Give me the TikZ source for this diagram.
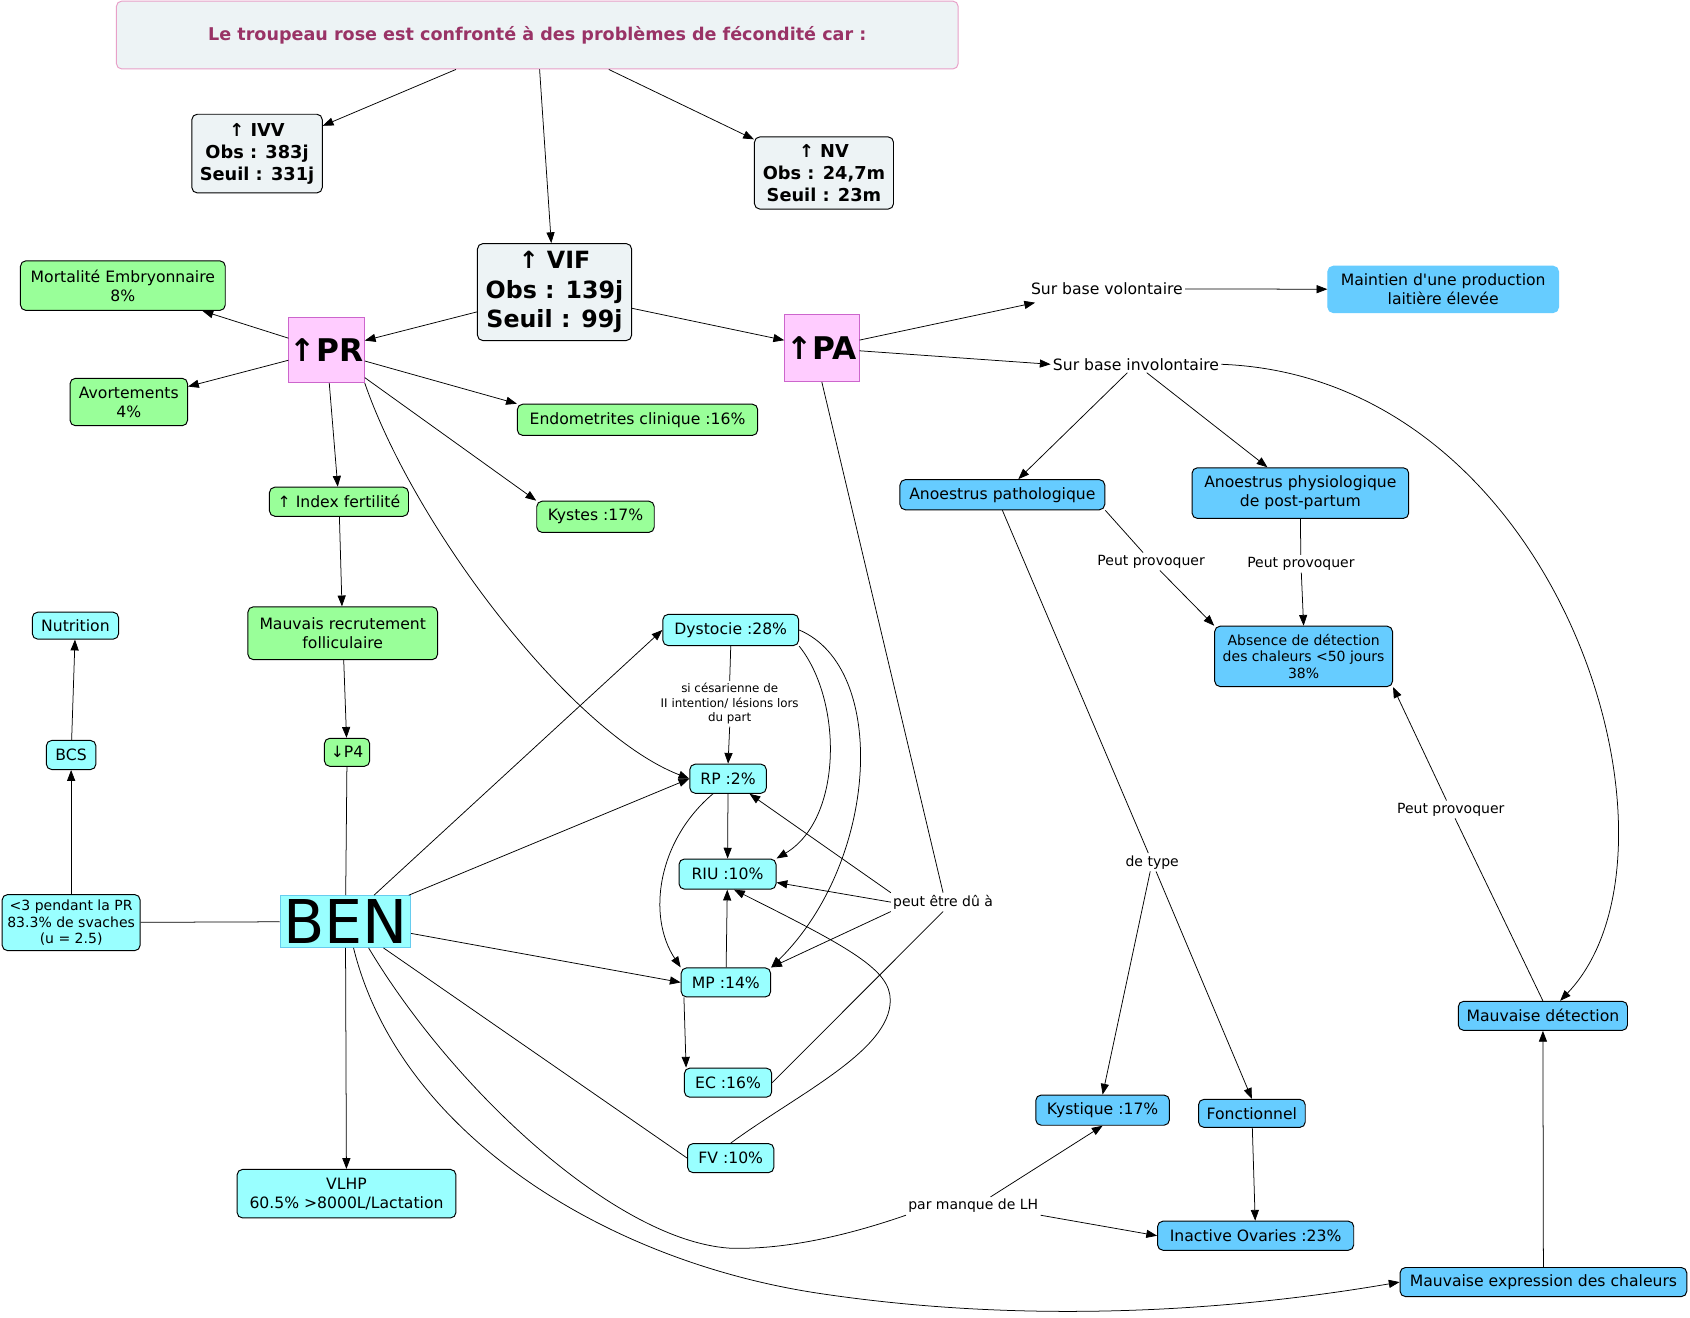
\documentclass[tikz,border=0pt]{standalone}
\usepackage{fontspec}
\setmainfont{DejaVu Sans}[Ligatures=TeXOff]
\usetikzlibrary{arrows.meta,calc}
\definecolor{cgreen}{HTML}{99FF99}
\definecolor{ccyan}{HTML}{99FFFF}
\definecolor{cblue}{HTML}{66CCFF}
\definecolor{cgrey}{HTML}{EDF3F5}
\definecolor{cpink}{HTML}{FFCCFF}
\definecolor{cpinkb}{HTML}{CC66CC}
\definecolor{ctitleb}{HTML}{E8A0C8}
\definecolor{ctitle}{HTML}{993366}
\definecolor{cbenb}{HTML}{66CCEE}
\newcommand\myfN{\fontsize{14.5}{17.5}\selectfont}
\newcommand\myfS{\fontsize{13}{15.5}\selectfont}
\begin{document}
\begin{tikzpicture}[x=1pt,y=-1pt,
  box/.style={draw=black, line width=0.9pt, rounded corners=5pt, align=center, inner sep=0pt, font=\myfN},
  grn/.style={box, fill=cgreen},
  cyn/.style={box, fill=ccyan},
  blu/.style={box, fill=cblue},
  gry/.style={box, fill=cgrey, font=\bfseries\fontsize{16.5}{20.5}\selectfont},
  pnk/.style={draw=cpinkb, fill=cpink, line width=0.9pt, inner sep=0pt, font=\bfseries\fontsize{29}{30}\selectfont},
  lab/.style={inner sep=2pt, align=center, font=\myfS},
  arr/.style={-{Triangle[length=10pt,width=7.5pt]}, line width=0.7pt},
  ln/.style={line width=0.7pt}]
\useasboundingbox (0,0) rectangle (1568,1222);
\fill[white] (0,0) rectangle (1568,1222);

% top
\node[box, draw=ctitleb, fill=cgrey, minimum width=781pt, minimum height=63pt, font=\bfseries\fontsize{16.3}{18}\selectfont, text=ctitle] (title) at (498.5,32.5) {Le troupeau rose est confronté à des problèmes de fécondité car :};
\node[gry, minimum width=121pt, minimum height=73pt] (ivv) at (238.5,142.5) {↑ IVV\\Obs : 383j\\Seuil : 331j};
\node[gry, minimum width=129pt, minimum height=67pt] (nv) at (764.5,160.5) {↑ NV\\Obs : 24,7m\\Seuil : 23m};
\node[gry, minimum width=143pt, minimum height=90pt, font=\bfseries\fontsize{22}{27.5}\selectfont] (vif) at (514.5,271) {↑ VIF\\Obs : 139j\\Seuil : 99j};
\node[pnk, minimum width=70pt, minimum height=60pt] (pr) at (303,325) {↑PR};
\node[pnk, minimum width=69pt, minimum height=62pt] (pa) at (762.5,323) {↑PA};

% green
\node[grn, minimum width=190pt, minimum height=46pt] (mort) at (114,265) {Mortalité Embryonnaire\\8\%};
\node[grn, minimum width=109pt, minimum height=44pt] (avort) at (119.5,373) {Avortements\\4\%};
\node[grn, minimum width=223pt, minimum height=29pt] (endo) at (591.5,389.5) {Endometrites clinique :16\%};
\node[grn, minimum width=129pt, minimum height=27pt] (index) at (314.5,465.5) {↑ Index fertilité};
\node[grn, minimum width=109pt, minimum height=29pt] (kystes) at (552.5,479.5) {Kystes :17\%};
\node[grn, minimum width=176pt, minimum height=49pt] (mauvrec) at (318,587.5) {Mauvais recrutement\\folliculaire};
\node[grn, minimum width=42pt, minimum height=26pt] (p4) at (322,698) {↓P4};

% cyan
\node[cyn, minimum width=80pt, minimum height=25pt] (nutrition) at (70,580.5) {Nutrition};
\node[cyn, minimum width=46pt, minimum height=27pt] (bcs) at (66,700.5) {BCS};
\node[cyn, minimum width=128pt, minimum height=52pt, font=\fontsize{13}{15.5}\selectfont] (lt3) at (66,856) {<3 pendant la PR\\83.3\% de svaches\\(u = 2.5)};
\node[draw=cbenb, fill=ccyan, line width=0.9pt, inner sep=0pt, minimum width=121pt, minimum height=48pt, font=\fontsize{56}{56}\selectfont] (ben) at (320.5,855) {BEN};
\node[cyn, minimum width=203pt, minimum height=45pt] (vlhp) at (321.5,1107.5) {VLHP\\60.5\% >8000L/Lactation};
\node[cyn, minimum width=126pt, minimum height=29pt] (dyst) at (678,584.5) {Dystocie :28\%};
\node[cyn, minimum width=71pt, minimum height=27pt] (rp) at (675.5,722.5) {RP :2\%};
\node[cyn, minimum width=90pt, minimum height=28pt] (riu) at (675,811) {RIU :10\%};
\node[cyn, minimum width=83pt, minimum height=27pt] (mp) at (673.5,911.5) {MP :14\%};
\node[cyn, minimum width=81pt, minimum height=27pt] (ec) at (675.5,1004.5) {EC :16\%};
\node[cyn, minimum width=80pt, minimum height=27pt] (fv) at (678,1074.5) {FV :10\%};

% blue
\node[blu, draw=cblue, minimum width=214pt, minimum height=43pt] (maintien) at (1339,268.5) {Maintien d'une production\\laitière élevée};
\node[blu, minimum width=190pt, minimum height=28pt] (anpath) at (930,459) {Anoestrus pathologique};
\node[blu, minimum width=201pt, minimum height=47pt] (anphys) at (1206.5,457.5) {Anoestrus physiologique\\de post-partum};
\node[blu, minimum width=165pt, minimum height=56pt, font=\fontsize{13}{15.5}\selectfont] (absence) at (1209.5,609) {Absence de détection\\des chaleurs <50 jours\\38\%};
\node[blu, minimum width=157pt, minimum height=27pt] (mauvdet) at (1431.5,942.5) {Mauvaise détection};
\node[blu, minimum width=124pt, minimum height=28pt] (kystique) at (1023,1030) {Kystique :17\%};
\node[blu, minimum width=99pt, minimum height=26pt] (fonct) at (1161.5,1033) {Fonctionnel};
\node[blu, minimum width=182pt, minimum height=27pt] (inactive) at (1165,1146.5) {Inactive Ovaries :23\%};
\node[blu, minimum width=266pt, minimum height=27pt] (mauvexp) at (1432,1189.5) {Mauvaise expression des chaleurs};

% linking phrases
\node[lab, font=\fontsize{11}{13.5}\selectfont] (lcesar) at (677,653) {si césarienne de\\II intention/ lésions lors\\du part};
\node[lab] (lpeut) at (875,837) {peut être dû à};
\node[lab, font=\myfN] (lvol) at (1027,268) {Sur base volontaire};
\node[lab, font=\myfN] (linvol) at (1054,338) {Sur base involontaire};
\node[lab] (lprov1) at (1068,521) {Peut provoquer};
\node[lab] (lprov2) at (1207,523) {Peut provoquer};
\node[lab] (lprov3) at (1346,751) {Peut provoquer};
\node[lab] (ltype) at (1069,800) {de type};
\node[lab] (llh) at (903,1119) {par manque de LH};

% connectors
\draw[arr] (title) -- (ivv);
\draw[arr] (title) -- (vif);
\draw[arr] (title) -- (nv);
\draw[arr] (vif) -- (pr);
\draw[arr] (vif) -- (pa);
\draw[arr] (pr) -- (mort);
\draw[arr] (pr) -- (avort);
\draw[arr] (pr) -- (endo.north west);
\draw[arr] (pr) -- (kystes.north west);
\draw[arr] (pr) -- (index);
\draw[arr] (pr.south east) .. controls (385,490) and (530,680) .. (rp.west);
\draw[arr] (index) -- (mauvrec);
\draw[arr] (mauvrec) -- (p4);
\draw[ln] (p4) -- (ben);
\draw[ln] (ben) -- (lt3);
\draw[arr] (lt3) -- (bcs);
\draw[arr] (bcs) -- (nutrition);
\draw[arr] (ben) -- (dyst.west);
\draw[arr] (ben) -- (rp.west);
\draw[arr] (ben) -- (mp.west);
\draw[arr] (ben) -- (vlhp);
\draw[ln] (ben) -- (fv.west);
\draw[ln] ($(ben.south)+(21.5,0)$) .. controls (420,1010) and (570,1150) .. (676,1158) .. controls (730,1160) and (790,1145) .. (llh.south west);
\draw[arr] ($(ben.south)+(7.5,0)$) .. controls (370,1050) and (560,1170) .. (760,1200) .. controls (960,1230) and (1150,1215) .. (mauvexp.west);
\draw[ln] (dyst.south) -- (lcesar.north);
\draw[arr] (lcesar.south) -- (rp.north);
\draw[arr] (dyst.south east) .. controls (782,650) and (782,760) .. (riu.north east);
\draw[arr] (dyst.east) .. controls (825,620) and (815,800) .. (mp.north east);
\draw[arr] (rp) -- (riu);
\draw[arr] ($(rp.south west)+(22,0)$) .. controls (610,780) and (600,850) .. (mp.north west);
\draw[arr] (mp) -- (riu);
\draw[arr] ($(mp.south west)+(3,0)$) -- ($(ec.north west)+(2,0)$);
\draw[ln] (pa.south) -- (lpeut.north);
\draw[ln] (ec.east) -- (lpeut.south);
\draw[arr] (lpeut.north west) -- (rp);
\draw[arr] (lpeut.west) -- (riu);
\draw[arr] (lpeut.south west) -- (mp.north east);
\draw[arr] (fv.north) .. controls (740,1015) and (826,975) .. (826,928) .. controls (826,900) and (790,880) .. ($(riu.south)+(6,0)$);
\draw[arr] (pa) -- ($(lvol.south west)+(6,5)$);
\draw[arr] (pa) -- (linvol.west);
\draw[arr] (lvol) -- (maintien);
\draw[arr] (linvol) -- (anpath);
\draw[arr] (linvol) -- (anphys);
\draw[arr] (linvol.east) .. controls (1450,350) and (1580,790) .. ($(mauvdet.north)+(16,0)$);
\draw[ln] (anpath.south east) -- (lprov1);
\draw[arr] (lprov1) -- (absence.north west);
\draw[ln] (anphys.south) -- (lprov2);
\draw[arr] (lprov2) -- (absence.north);
\draw[ln] (mauvdet.north) -- (lprov3);
\draw[arr] (lprov3) -- (absence.south east);
\draw[ln] (anpath.south) -- (ltype);
\draw[arr] (ltype) -- (kystique.north);
\draw[arr] (ltype) -- (fonct.north);
\draw[arr] ($(llh.north)+(16,0)$) -- (kystique.south);
\draw[arr] (llh.south east) -- (inactive.west);
\draw[arr] (fonct) -- (inactive);
\draw[arr] (mauvexp) -- (mauvdet);
\end{tikzpicture}
\end{document}
